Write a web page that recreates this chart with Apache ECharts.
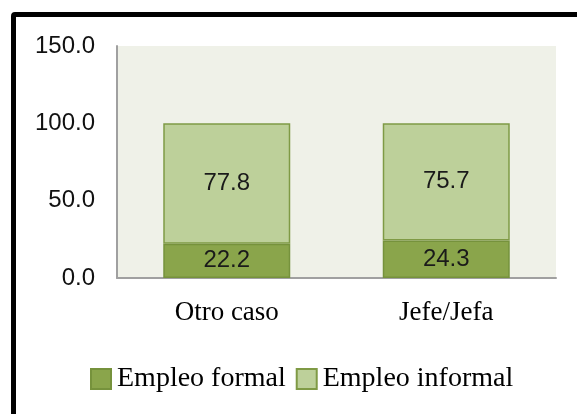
<!DOCTYPE html>
<html>
<head>
<meta charset="utf-8">
<script src="https://cdn.jsdelivr.net/npm/echarts@6/dist/echarts.min.js"></script>
<style>
  html, body { margin: 0; padding: 0; background: #fff; }
  #chart { position: absolute; left: 0; top: 0; width: 577px; height: 414px; }
  /* marco negro del gráfico, sale por la derecha y por abajo */
  #marco {
    position: absolute; left: 11px; top: 12px; width: 600px; height: 450px;
    border: 5px solid #000; border-radius: 4px; pointer-events: none;
  }
</style>
</head>
<body>
<div id="chart"></div>
<div id="marco"></div>
<script>
// datos
var categorias = ['Otro caso', 'Jefe/Jefa'];
var empleoFormal = [22.2, 24.3];
var empleoInformal = [77.8, 75.7];
var ticksY = [0, 50, 100, 150];

var chart = echarts.init(document.getElementById('chart'));

var etiqueta = {
  show: true,
  position: 'inside',
  color: '#1a1a1a',
  fontFamily: 'Liberation Sans',
  fontSize: 24,
  formatter: function (p) { return p.value.toFixed(1); }
};

var option = {
  animation: false,
  grid: {
    left: 117, right: 21, top: 46, bottom: 136,
    show: true, backgroundColor: '#eff1e8', borderWidth: 0
  },
  legend: {
    data: ['Empleo formal', 'Empleo informal'],
    left: 85, top: 360,
    itemWidth: 20, itemHeight: 20, itemGap: 10,
    icon: 'rect',
    textStyle: { fontFamily: 'Liberation Serif', fontSize: 28, color: '#000', padding: [0, 0, 0, 1] }
  },
  xAxis: {
    type: 'category',
    data: categorias,
    axisLine: { lineStyle: { color: '#a0a0a0', width: 2 } },
    axisTick: { show: false },
    axisLabel: { fontFamily: 'Liberation Serif', fontSize: 27, color: '#000', margin: 21 }
  },
  yAxis: {
    type: 'value',
    min: ticksY[0], max: ticksY[ticksY.length - 1], interval: 50,
    axisLine: { show: true, lineStyle: { color: '#a0a0a0', width: 2 } },
    axisTick: { show: false },
    splitLine: { show: false },
    axisLabel: {
      fontFamily: 'Liberation Sans', fontSize: 24, color: '#111', margin: 22,
      formatter: function (v) { return v.toFixed(1); }
    }
  },
  series: [
    {
      name: 'Empleo formal', type: 'bar', stack: 'total', barWidth: 127,
      data: empleoFormal,
      itemStyle: { color: '#8aa54b', borderColor: '#76923c', borderWidth: 1.5 },
      label: etiqueta
    },
    {
      name: 'Empleo informal', type: 'bar', stack: 'total', barWidth: 127,
      data: empleoInformal,
      itemStyle: { color: '#bdd09a', borderColor: '#7f9a45', borderWidth: 1.5 },
      label: etiqueta
    }
  ]
};

chart.setOption(option);
</script>
</body>
</html>
